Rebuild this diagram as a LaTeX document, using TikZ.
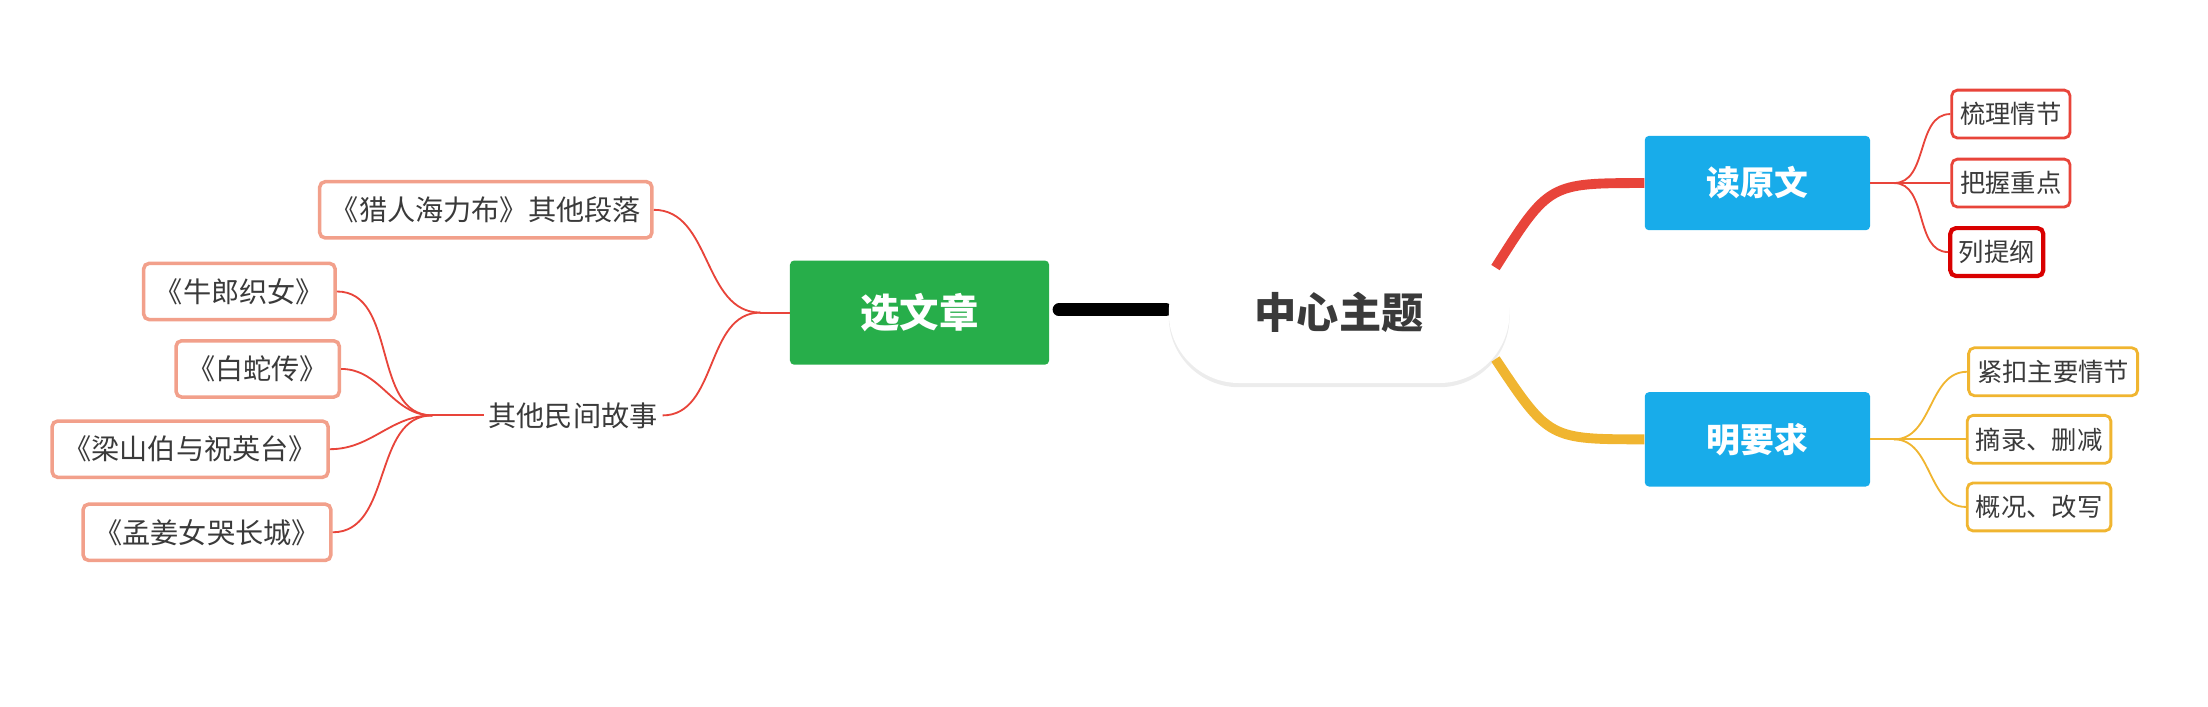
\documentclass[tikz,border=0pt]{standalone}
\usepackage{fontspec}
\setmainfont{Noto Sans CJK SC}
\usetikzlibrary{shadows}
\definecolor{blu}{HTML}{18ACEA}
\definecolor{grn}{HTML}{27AE4A}
\definecolor{rd}{HTML}{E8443A}
\definecolor{yl}{HTML}{F0B530}
\definecolor{salm}{HTML}{F2A08B}
\definecolor{txt}{HTML}{3A3A3A}
\begin{document}
\begin{tikzpicture}[x=1pt,y=-1pt,
  main/.style={fill=blu,text=white,rounded corners=3pt,minimum width=160pt,minimum height=67pt,font=\fontsize{24}{28}\selectfont\bfseries},
  leafr/.style={draw=rd,line width=2pt,rounded corners=4pt,fill=white,text=txt,minimum height=34pt,font=\fontsize{18}{22}\selectfont,inner xsep=6pt},
  leafy/.style={draw=yl,line width=2pt,rounded corners=4pt,fill=white,text=txt,minimum height=34pt,font=\fontsize{18}{22}\selectfont,inner xsep=6pt},
  leafs/.style={draw=salm,line width=2.5pt,rounded corners=4pt,fill=white,text=txt,minimum height=40pt,font=\fontsize{20}{24}\selectfont,inner xsep=8pt},
  br/.style={draw=rd,line width=1.3pt},
  by/.style={draw=yl,line width=1.3pt}]
\useasboundingbox (0,0) rectangle (1568,502);
% black connector
\draw[line width=9pt,black,line cap=round] (752,220) -- (828,220);
% center
\node[fill=white,rounded corners=50pt,minimum width=242pt,minimum height=100pt,drop shadow={opacity=0.15,shadow xshift=0pt,shadow yshift=-3pt},text=txt,font=\fontsize{30}{34}\selectfont\bfseries] (c) at (951,222) {中心主题};
\node[fill=grn,text=white,rounded corners=3pt,minimum width=184pt,minimum height=74pt,font=\fontsize{28}{32}\selectfont\bfseries] (x) at (653,222) {选文章};
\node[main] (d) at (1248,130) {读原文};
\node[main] (m) at (1248,312) {明要求};
\coordinate (c1) at (1062,190);
\coordinate (c2) at (1062,255);
\draw[rd,line width=7pt] (c1) .. controls (1100,130) .. (d.west);
\draw[yl,line width=7pt] (c2) .. controls (1100,312) .. (m.west);
% right leaves
\node[leafr] (r1) at (1428,81) {梳理情节};
\node[leafr] (r2) at (1428,130) {把握重点};
\node[leafr,draw=red!85!black,line width=3pt] (r3) at (1418,179) {列提纲};
\coordinate (fr) at (1345,130);
\draw[br] (d.east) -- (fr);
\foreach \n in {r1,r2,r3} \draw[br] (fr) to[out=0,in=180] (\n.west);
\node[leafy] (y1) at (1458,264) {紧扣主要情节};
\node[leafy] (y2) at (1448,312) {摘录、删减};
\node[leafy] (y3) at (1448,360) {概况、改写};
\coordinate (fy) at (1345,312);
\draw[by] (m.east) -- (fy);
\foreach \n in {y1,y2,y3} \draw[by] (fy) to[out=0,in=180] (\n.west);
% left
\node[leafs] (l0) at (345,149) {《猎人海力布》其他段落};
\node[text=txt,font=\fontsize{20}{24}\selectfont] (q) at (407,295) {其他民间故事};
\coordinate (fx) at (540,222);
\draw[br] (x.west) -- (fx);
\draw[br] (fx) to[out=180,in=0] (l0.east);
\draw[br] (fx) to[out=180,in=0] (q.east);
\node[leafs] (s1) at (170,207) {《牛郎织女》};
\node[leafs] (s2) at (183,262) {《白蛇传》};
\node[leafs] (s3) at (135,319) {《梁山伯与祝英台》};
\node[leafs] (s4) at (147,378) {《孟姜女哭长城》};
\coordinate (fq) at (307,295);
\draw[br] (q.west) -- (fq);
\foreach \n in {s1,s2,s3,s4} \draw[br] (fq) to[out=180,in=0] (\n.east);
\end{tikzpicture}
\end{document}
